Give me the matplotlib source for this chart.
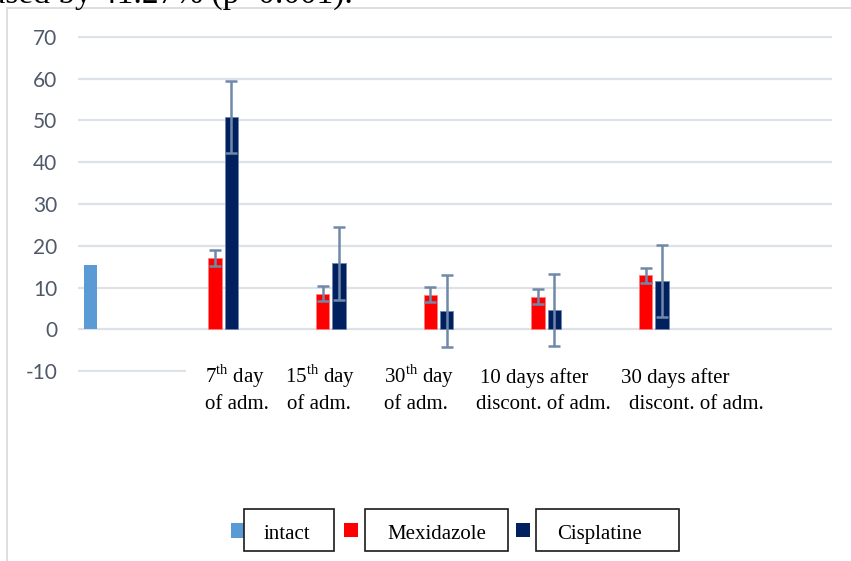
import numpy as np
import matplotlib
matplotlib.use("Agg")
import matplotlib.pyplot as plt
from matplotlib.patches import Rectangle
from matplotlib.lines import Line2D

W, H = 851, 561

# category slots: intact first, five time points, one empty slot at the end
categories = ["intact", "7th day", "15th day", "30th day",
              "10 days after", "30 days after", ""]
intact = [15.5, np.nan, np.nan, np.nan, np.nan, np.nan, np.nan]
mexidazole = [np.nan, 17.1, 8.5, 8.3, 7.8, 12.9, np.nan]
mexidazole_err = [np.nan, 1.9, 1.8, 1.8, 1.8, 1.8, np.nan]
cisplatine = [np.nan, 50.8, 15.8, 4.5, 4.6, 11.5, np.nan]
cisplatine_err = [np.nan, 8.7, 8.7, 8.6, 8.6, 8.6, np.nan]

label_top = ["7$^{\\mathrm{th}}$ day", "15$^{\\mathrm{th}}$ day", "30$^{\\mathrm{th}}$ day",
             "10 days after", "30 days after"]
label_bottom = ["of adm.", "of adm.", "of adm.",
                "discont. of adm.", "discont. of adm."]
top_x = [205, 285, 384, 480, 621]
bottom_x = [205, 287, 384, 476, 629]

c_intact = "#5b9bd5"
c_mex = "#ff0000"
c_cis = "#002060"
c_err = "#7189a8"
c_grid = "#dde1e8"

plt.rcParams["mathtext.fontset"] = "custom"
plt.rcParams["mathtext.rm"] = "Liberation Serif"
plt.rcParams["axes.unicode_minus"] = False
serif = "Liberation Serif"


def fx(px):
    return px / W


def fy(py):
    return 1 - py / H


fig = plt.figure(figsize=(W / 100, H / 100), dpi=100)

# plot area spans the gridlines
ax = fig.add_axes([fx(78), fy(372), fx(832) - fx(78), fy(36) - fy(372)])
ymin, ymax = -10.2, 70.2
ax.set_ylim(ymin, ymax)
ax.set_xlim(-0.5, len(categories) - 0.5)

x = np.arange(len(categories))
step = 0.153
width = 0.125
ax.bar(x - 2.5 * step, intact, width, color=c_intact, zorder=3)
ax.bar(x - 1.5 * step, mexidazole, width, color=c_mex, edgecolor="#ff8080", linewidth=0.6, zorder=3)
ax.bar(x - 0.5 * step, cisplatine, width, color=c_cis, edgecolor="#6f86ad", linewidth=0.6, zorder=3)
ax.errorbar(x - 1.5 * step, mexidazole, yerr=mexidazole_err, fmt="none", ecolor=c_err,
            elinewidth=1.8, capsize=4.3, capthick=1.8, zorder=4)
ax.errorbar(x - 0.5 * step, cisplatine, yerr=cisplatine_err, fmt="none", ecolor=c_err,
            elinewidth=1.8, capsize=4.3, capthick=1.8, zorder=4)

ax.set_yticks(np.arange(-10, 71, 10))
ax.yaxis.grid(True, color=c_grid, linewidth=1.6, zorder=0)
ax.set_axisbelow(True)
ax.set_xticks([])
for s in ax.spines.values():
    s.set_visible(False)
ax.tick_params(axis="y", length=0, pad=15, labelsize=15, labelcolor="#4f596a")
for t in ax.get_yticklabels():
    t.set_fontfamily("Lato")

# chart frame (left and top edges)
fig.add_artist(Line2D([fx(7), fx(7)], [fy(8), 0], color="#d9d9d9", linewidth=1.2))
fig.add_artist(Line2D([fx(7), 1], [fy(8), fy(8)], color="#d9d9d9", linewidth=1.2))

# white text box carrying the category labels
fig.add_artist(Rectangle((fx(186), fy(420)), fx(851) - fx(186), fy(361) - fy(420),
                         transform=fig.transFigure, facecolor="white", edgecolor="none", zorder=5))
for xt, s in zip(top_x, label_top):
    fig.text(fx(xt), fy(383), s, fontsize=15, family=serif, va="baseline", zorder=6)
for xb, s in zip(bottom_x, label_bottom):
    fig.text(fx(xb), fy(409), s, fontsize=15, family=serif, va="baseline", zorder=6)

# legend: colour squares and boxed names
legend_items = [
    (c_intact, (231, 523, 14, 15), (244, 509, 90, 42), 264, "intact"),
    (c_mex, (344, 523, 14, 14), (365, 509, 143, 42), 387, "Mexidazole"),
    (c_cis, (516, 523, 14, 14), (536, 509, 143, 42), 557, "Cisplatine"),
]
for color, sq, box, tx, name in legend_items:
    sx, sy, sw, sh = sq
    fig.add_artist(Rectangle((fx(sx), fy(sy + sh)), fx(sw), sh / H,
                             transform=fig.transFigure, facecolor=color, edgecolor="none", zorder=5))
    bx, by, bw, bh = box
    fig.add_artist(Rectangle((fx(bx), fy(by + bh)), fx(bw), bh / H,
                             transform=fig.transFigure, facecolor="white", edgecolor="#1a1a1a",
                             linewidth=1.2, zorder=6))
    fig.text(fx(tx), fy(539), name, fontsize=15, family=serif, va="baseline", zorder=7)

# tail of the paragraph above the chart
fig.text(fx(353), fy(3), "creased by 41.27% (p<0.001).", fontsize=24, family=serif,
         ha="right", va="baseline")

fig.savefig("out.png", dpi=100)
